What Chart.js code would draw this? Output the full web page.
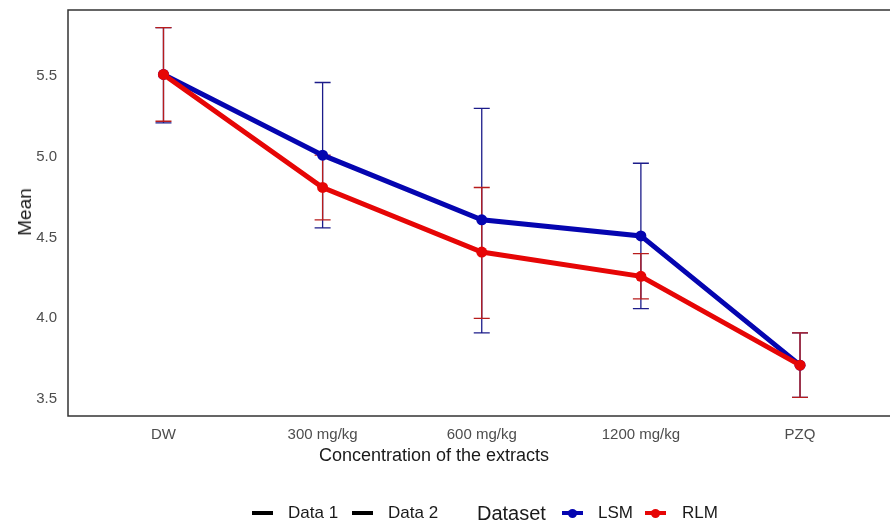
<!DOCTYPE html>
<html>
<head>
<meta charset="utf-8">
<script src="https://cdn.jsdelivr.net/npm/chart.js@4/dist/chart.umd.min.js"></script>
<style>
  html, body { margin:0; padding:0; background:#fff; overflow:hidden; width:890px; height:525px; }
  #wrap { position:absolute; left:0; top:0; width:901px; height:525px; }
  .txt { position:absolute; font-family:"Liberation Sans", Arial, sans-serif; color:#1a1a1a; white-space:nowrap; }
  .sym { position:absolute; height:4px; }
  .dot { position:absolute; width:9px; height:9px; border-radius:50%; }
</style>
</head>
<body>
<div id="wrap"><canvas id="c" width="901" height="525"></canvas></div>
<div class="txt" id="ylab" style="left:25px; top:212px; font-size:19px; transform:translate(-50%,-50%) rotate(-90deg); transform-origin:center;">Mean</div>
<div class="txt" id="xlab" style="left:434px; top:455px; font-size:18px; transform:translate(-50%,-50%);">Concentration of the extracts</div>
<div id="legend"></div>
<script>
const categories = ['DW', '300 mg/kg', '600 mg/kg', '1200 mg/kg', 'PZQ'];
const lsmMean  = [5.51, 5.01, 4.61, 4.51, 3.71];
const lsmLower = [5.21, 4.56, 3.91, 4.06, 3.51];
const lsmUpper = [5.80, 5.46, 5.30, 4.96, 3.91];
const rlmMean  = [5.51, 4.81, 4.41, 4.26, 3.71];
const rlmLower = [5.22, 4.61, 4.00, 4.12, 3.51];
const rlmUpper = [5.80, 5.01, 4.81, 4.40, 3.91];
const yTicks = [3.5, 4.0, 4.5, 5.0, 5.5];

const BLUE = '#0505b0';
const RED = '#e60606';
const BLUE_ERR = '#1c1c8a';
const RED_ERR = '#b81c1c';

const toXY = arr => arr.map((v, i) => ({x: i, y: v}));

const errorBars = {
  id: 'errorBars',
  beforeDatasetsDraw(chart) {
    const ctx = chart.ctx;
    const xs = chart.scales.x, ys = chart.scales.y;
    const sets = [
      {lo: lsmLower, hi: lsmUpper, color: BLUE_ERR},
      {lo: rlmLower, hi: rlmUpper, color: RED_ERR}
    ];
    ctx.save();
    ctx.lineWidth = 1.3;
    sets.forEach(s => {
      ctx.strokeStyle = s.color;
      for (let i = 0; i < categories.length; i++) {
        const px = xs.getPixelForValue(i);
        const y1 = ys.getPixelForValue(s.lo[i]);
        const y2 = ys.getPixelForValue(s.hi[i]);
        ctx.beginPath();
        ctx.moveTo(px, y1); ctx.lineTo(px, y2);
        ctx.moveTo(px - 8, y1); ctx.lineTo(px + 8, y1);
        ctx.moveTo(px - 8, y2); ctx.lineTo(px + 8, y2);
        ctx.stroke();
      }
    });
    ctx.restore();
  }
};

const frame = {
  id: 'frame',
  afterDraw(chart) {
    const {ctx, chartArea: a} = chart;
    ctx.save();
    ctx.strokeStyle = '#333333';
    ctx.lineWidth = 1.5;
    ctx.strokeRect(a.left, a.top, a.right - a.left, a.bottom - a.top);
    ctx.restore();
  }
};

new Chart(document.getElementById('c'), {
  type: 'line',
  data: {
    datasets: [
      {
        label: 'LSM', data: toXY(lsmMean), borderColor: BLUE, backgroundColor: BLUE,
        borderWidth: 5, pointRadius: 5.5, pointBorderWidth: 0, pointHoverRadius: 5.5, order: 1
      },
      {
        label: 'RLM', data: toXY(rlmMean), borderColor: RED, backgroundColor: RED,
        borderWidth: 5, pointRadius: 5.5, pointBorderWidth: 0, pointHoverRadius: 5.5, order: 0
      }
    ]
  },
  options: {
    responsive: false,
    animation: false,
    devicePixelRatio: 1,
    layout: { padding: { top: 10, left: 0, right: 0, bottom: 0 } },
    plugins: { legend: { display: false }, tooltip: { enabled: false } },
    scales: {
      x: {
        type: 'linear', min: -0.6, max: 4.6,
        grid: { display: false, drawTicks: false },
        border: { display: false },
        afterBuildTicks: s => { s.ticks = categories.map((c, i) => ({value: i})); },
        ticks: {
          padding: 10, color: '#4d4d4d', maxRotation: 0, autoSkip: false,
          font: { family: '"Liberation Sans", Arial, sans-serif', size: 15 },
          callback: v => categories[v]
        },
        afterFit: s => { s.height = 109; s.paddingLeft = 0; s.paddingRight = 0; }
      },
      y: {
        type: 'linear', min: 3.395, max: 5.909,
        grid: { display: false, drawTicks: false },
        border: { display: false },
        afterBuildTicks: s => { s.ticks = yTicks.map(v => ({value: v})); },
        ticks: {
          padding: 11, color: '#4d4d4d',
          font: { family: '"Liberation Sans", Arial, sans-serif', size: 15 },
          callback: v => Number(v).toFixed(1)
        },
        afterFit: s => { s.width = 68; s.paddingTop = 0; s.paddingBottom = 0; }
      }
    }
  },
  plugins: [errorBars, frame]
});

// Legend
const legend = document.getElementById('legend');
function addSym(x, color, dot) {
  const l = document.createElement('div');
  l.className = 'sym';
  l.style.left = x + 'px'; l.style.top = '511px'; l.style.width = '21px'; l.style.background = color;
  legend.appendChild(l);
  if (dot) {
    const d = document.createElement('div');
    d.className = 'dot';
    d.style.left = (x + 6) + 'px'; d.style.top = '508.5px'; d.style.background = color;
    legend.appendChild(d);
  }
}
function addText(x, text, size) {
  const t = document.createElement('div');
  t.className = 'txt';
  t.textContent = text;
  t.style.left = x + 'px'; t.style.top = '513px'; t.style.fontSize = size + 'px';
  t.style.transform = 'translateY(-50%)';
  legend.appendChild(t);
}
addSym(252, '#000', false); addText(288, 'Data 1', 17);
addSym(352, '#000', false); addText(388, 'Data 2', 17);
addText(477, 'Dataset', 20);
addSym(562, BLUE, true); addText(598, 'LSM', 17);
addSym(645, RED, true); addText(682, 'RLM', 17);
</script>
</body>
</html>
